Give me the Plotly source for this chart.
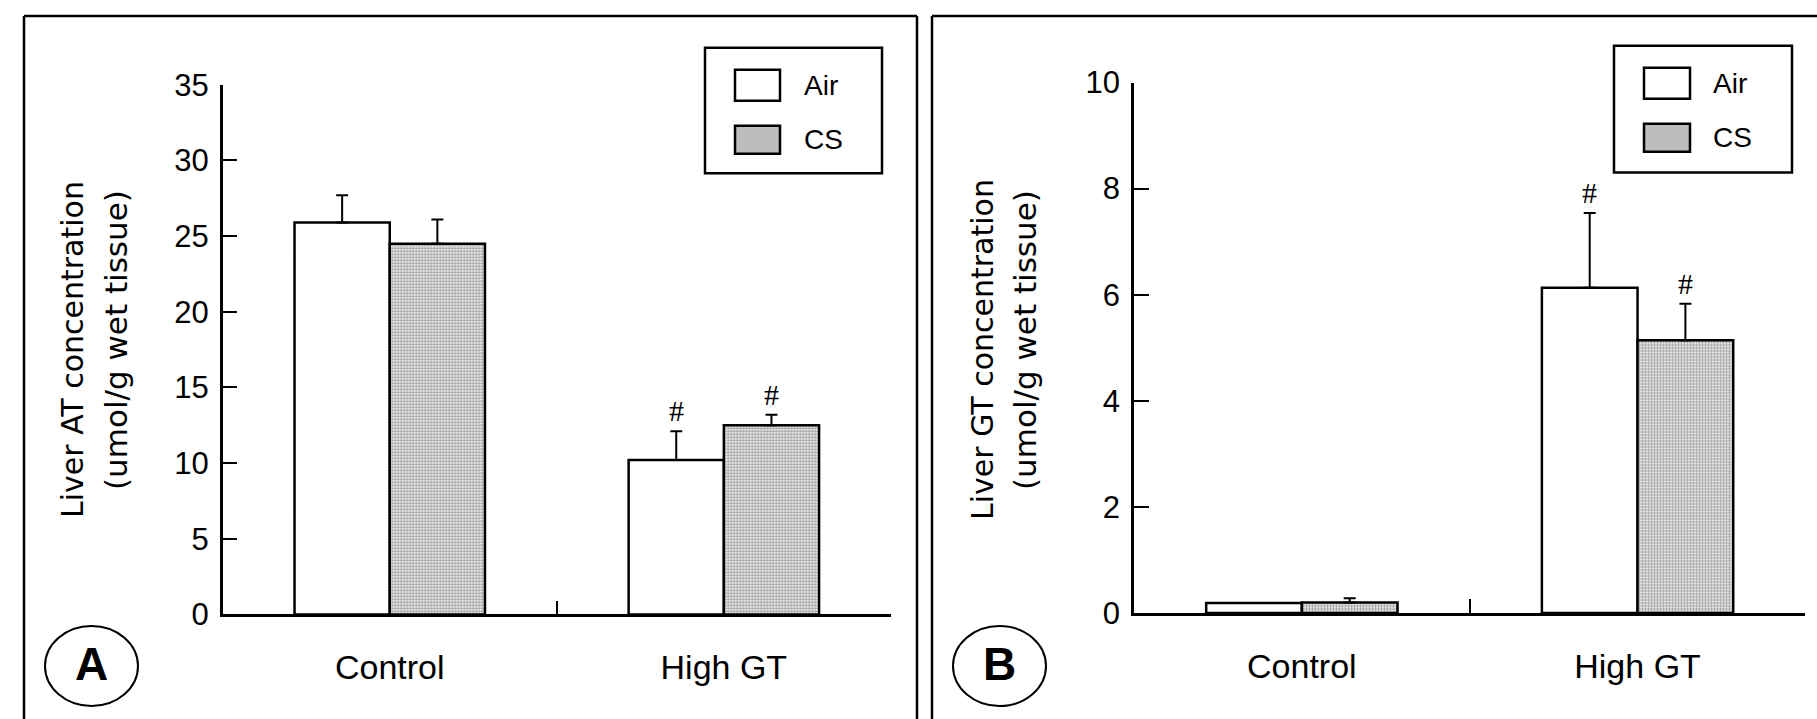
import plotly.graph_objects as go

W, H = 1817, 719

# ---- data -------------------------------------------------------------
groups = ["Control", "High GT"]

# Panel A: liver alpha-tocopherol (umol/g wet tissue)
at_air = [25.9, 10.2]
at_air_err = [1.8, 1.9]
at_cs = [24.5, 12.5]
at_cs_err = [1.6, 0.7]
at_air_mark = ["", "#"]
at_cs_mark = ["", "#"]

# Panel B: liver gamma-tocopherol (umol/g wet tissue)
gt_air = [0.19, 6.13]
gt_air_err = [0.0, 1.41]
gt_cs = [0.20, 5.14]
gt_cs_err = [0.08, 0.69]
gt_air_mark = ["", "#"]
gt_cs_mark = ["", "#"]

series_names = ["Air", "CS"]
ytitle_a = ["Liver AT concentration", "(umol/g wet tissue)"]
ytitle_b = ["Liver GT concentration", "(umol/g wet tissue)"]
panel_letters = ["A", "B"]

# ---- styling ----------------------------------------------------------
BARGAP = 0.43
SANS = "Liberation Sans"
WIDE = "DejaVu Sans"
CS_PATTERN = dict(shape=".", fgcolor="#333333", bgcolor="white", size=3, solidity=0.55)
CS_SWATCH = "#bdbdbd"
LW = 2.5


def px(x):
    return x / W


def py(y):
    return 1 - y / H


def bars(name, y, err, xa, ya, patterned):
    marker = dict(color="white", line=dict(color="black", width=LW))
    if patterned:
        marker = dict(color="white", pattern=CS_PATTERN, line=dict(color="black", width=LW))
    return go.Bar(
        name=name, x=groups, y=y, xaxis=xa, yaxis=ya, marker=marker,
        error_y=dict(type="data", array=err, arrayminus=[0] * len(err), symmetric=False,
                     color="black", thickness=2, width=6),
        showlegend=False,
    )


fig = go.Figure()
fig.add_trace(bars("Air", at_air, at_air_err, "x", "y", False))
fig.add_trace(bars("CS", at_cs, at_cs_err, "x", "y", True))
fig.add_trace(bars("Air", gt_air, gt_air_err, "x2", "y2", False))
fig.add_trace(bars("CS", gt_cs, gt_cs_err, "x2", "y2", True))

half = (1 - BARGAP) / 4
annotations = []


def sig_marks(vals, errs, marks, offset, xref, yref):
    for i, (v, e, m) in enumerate(zip(vals, errs, marks)):
        if m:
            annotations.append(dict(
                x=i + offset, y=v + e, xref=xref, yref=yref, text=m, showarrow=False,
                yanchor="bottom", yshift=2,
                font=dict(family="Liberation Serif", size=30, color="black")))


sig_marks(at_air, at_air_err, at_air_mark, -half, "x", "y")
sig_marks(at_cs, at_cs_err, at_cs_mark, half, "x", "y")
sig_marks(gt_air, gt_air_err, gt_air_mark, -half, "x2", "y2")
sig_marks(gt_cs, gt_cs_err, gt_cs_mark, half, "x2", "y2")

# panel geometry in pixels
panels = [
    dict(xa="xaxis", ya="yaxis", x0=222.7, x1=890.9, ytop=84.8, ybot=614.4,
         yrange=[0, 35], dtick=5, title=ytitle_a, t1=72, t2=116, tc1=350, tc2=340,
         frame_l=24, frame_r=917, leg=(705, 882, 47.7, 173.3), sw=(735, 780), tx=802,
         circ=(45, 138, 626, 706)),
    dict(xa="xaxis2", ya="yaxis2", x0=1134, x1=1805.4, ytop=82.5, ybot=613,
         yrange=[0, 10], dtick=2, title=ytitle_b, t1=982, t2=1025, tc1=350, tc2=340,
         frame_l=932, frame_r=None, leg=(1614, 1792, 45.8, 172.4), sw=(1644, 1690), tx=1711,
         circ=(953, 1046, 626, 706)),
]

shapes = []
layout_axes = {}
for k, p in enumerate(panels):
    anchor_y = "y" if k == 0 else "y2"
    anchor_x = "x" if k == 0 else "x2"
    layout_axes[p["xa"]] = dict(
        domain=[px(p["x0"]), px(p["x1"])], anchor=anchor_y, type="category",
        range=[-0.5, 1.5], showline=True, linecolor="black", linewidth=LW,
        ticks="inside", tickson="boundaries", ticklen=14, tickwidth=2, tickcolor="black",
        showgrid=False, zeroline=False, ticklabelstandoff=21, automargin=False,
        tickfont=dict(family=SANS, size=34, color="black"),
    )
    layout_axes[p["ya"]] = dict(
        domain=[py(p["ybot"]), py(p["ytop"])], anchor=anchor_x, range=p["yrange"],
        dtick=p["dtick"], showline=True, linecolor="black", linewidth=LW,
        ticks="inside", ticklen=15, tickwidth=2, tickcolor="black",
        showgrid=False, zeroline=False, ticklabelstandoff=5, automargin=False,
        tickfont=dict(family=SANS, size=31, color="black"),
    )

    # y-axis title, two rotated lines
    annotations.append(dict(x=px(p["t1"]), y=py(p["tc1"]), xref="paper", yref="paper",
                            text=p["title"][0], textangle=-90, showarrow=False,
                            xanchor="center", yanchor="middle",
                            font=dict(family=WIDE, size=30, color="black")))
    annotations.append(dict(x=px(p["t2"]), y=py(p["tc2"]), xref="paper", yref="paper",
                            text=p["title"][1], textangle=-90, showarrow=False,
                            xanchor="center", yanchor="middle",
                            font=dict(family=WIDE, size=31, color="black")))

    # panel frame (open at the bottom)
    line = dict(color="black", width=LW)
    fl = p["frame_l"]
    fr = p["frame_r"] if p["frame_r"] is not None else W
    shapes.append(dict(type="line", xref="paper", yref="paper", x0=px(fl), x1=px(fl),
                       y0=py(16), y1=0, line=line))
    shapes.append(dict(type="line", xref="paper", yref="paper", x0=px(fl), x1=px(fr),
                       y0=py(16), y1=py(16), line=line))
    if p["frame_r"] is not None:
        shapes.append(dict(type="line", xref="paper", yref="paper", x0=px(fr), x1=px(fr),
                           y0=py(16), y1=0, line=line))

    # legend box with swatches
    lx0, lx1, ly0, ly1 = p["leg"]
    shapes.append(dict(type="rect", xref="paper", yref="paper", x0=px(lx0), x1=px(lx1),
                       y0=py(ly1), y1=py(ly0), line=dict(color="black", width=2.5),
                       fillcolor="white"))
    sx0, sx1 = p["sw"]
    for j, (name, top, bot, fill) in enumerate(
            [(series_names[0], ly0 + 22, ly0 + 53, "white"),
             (series_names[1], ly0 + 78, ly0 + 106, CS_SWATCH)]):
        shapes.append(dict(type="rect", xref="paper", yref="paper", x0=px(sx0), x1=px(sx1),
                           y0=py(bot), y1=py(top), line=dict(color="black", width=2.5),
                           fillcolor=fill))
        annotations.append(dict(x=px(p["tx"]), y=py((top + bot) / 2), xref="paper",
                                yref="paper", text=name, showarrow=False,
                                xanchor="left", yanchor="middle",
                                font=dict(family=SANS, size=28, color="black")))

    # circled panel letter
    cx0, cx1, cy0, cy1 = p["circ"]
    shapes.append(dict(type="circle", xref="paper", yref="paper", x0=px(cx0), x1=px(cx1),
                       y0=py(cy1), y1=py(cy0), line=dict(color="black", width=2)))
    annotations.append(dict(x=px((cx0 + cx1) / 2), y=py((cy0 + cy1) / 2 - 2), xref="paper",
                            yref="paper", text="<b>%s</b>" % panel_letters[k],
                            showarrow=False, xanchor="center", yanchor="middle",
                            font=dict(family=SANS, size=46, color="black")))

fig.update_layout(
    width=W, height=H, margin=dict(l=0, r=0, t=0, b=0, autoexpand=False),
    paper_bgcolor="white", plot_bgcolor="white",
    barmode="group", bargap=BARGAP, bargroupgap=0,
    shapes=shapes, annotations=annotations, showlegend=False,
    **layout_axes,
)

fig.write_html("out.html")
